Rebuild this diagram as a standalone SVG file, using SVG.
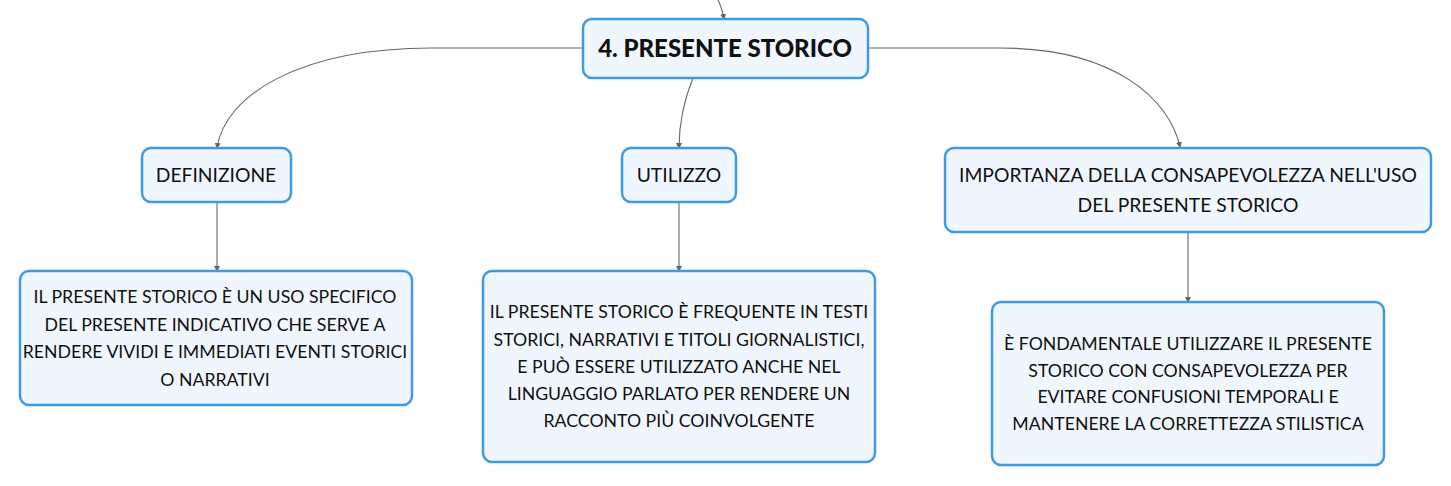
<svg xmlns="http://www.w3.org/2000/svg" width="1451" height="486" viewBox="0 0 1451 486">
<defs>
<marker id="arr" viewBox="0 0 6 6" refX="5" refY="3" markerWidth="6" markerHeight="6" orient="auto" markerUnits="userSpaceOnUse">
<path d="M0,0 L6,3 L0,6 z" fill="#666"/>
</marker>
<style>
.box{fill:#eff6fd;stroke:#3c9be2;stroke-width:2.5}
.t{font-family:Lato,"Noto Sans",sans-serif;font-size:17.7px;fill:#111;text-anchor:middle}
.m{font-family:Lato,"Noto Sans",sans-serif;font-size:19.3px;fill:#111;text-anchor:middle}
.root{font-family:Lato,"Noto Sans",sans-serif;font-size:24px;font-weight:900;fill:#111;text-anchor:middle}
.c{fill:none;stroke:#666;stroke-width:1.1}
</style>
</defs>
<rect width="1451" height="486" fill="#fff"/>
<g id="connectors">
<path class="c" d="M718,0 Q722,8 724,19" marker-end="url(#arr)"/>
<path class="c" d="M582,48 L432,48 C300,48 225,95 217,148" marker-end="url(#arr)"/>
<path class="c" d="M868,48 L1000,48 C1115,48 1170,100 1180,147" marker-end="url(#arr)"/>
<path class="c" d="M693,78 C684,100 679,125 679,148" marker-end="url(#arr)"/>
<path class="c" d="M217,202 L217,271" marker-end="url(#arr)"/>
<path class="c" d="M679,202 L679,271" marker-end="url(#arr)"/>
<path class="c" d="M1188,232 L1188,302" marker-end="url(#arr)"/>
</g>
<g id="root">
<rect class="box" x="583" y="19" width="285" height="59" rx="9"/>
<text class="root" x="725" y="57">4. PRESENTE STORICO</text>
</g>
<g id="definizione">
<rect class="box" x="142" y="148" width="149" height="54" rx="9"/>
<text class="m" x="216" y="182">DEFINIZIONE</text>
</g>
<g id="utilizzo">
<rect class="box" x="622" y="148" width="114" height="54" rx="9"/>
<text class="m" x="679" y="182">UTILIZZO</text>
</g>
<g id="importanza">
<rect class="box" x="945" y="148" width="486" height="84" rx="9"/>
<text class="m" x="1188" y="182">IMPORTANZA DELLA CONSAPEVOLEZZA NELL'USO</text>
<text class="m" x="1188" y="212">DEL PRESENTE STORICO</text>
</g>
<g id="leaf-definizione">
<rect class="box" x="20" y="271" width="392" height="134" rx="9"/>
<text class="t" x="215" y="303">IL PRESENTE STORICO È UN USO SPECIFICO</text>
<text class="t" x="215" y="331">DEL PRESENTE INDICATIVO CHE SERVE A</text>
<text class="t" x="215" y="358">RENDERE VIVIDI E IMMEDIATI EVENTI STORICI</text>
<text class="t" x="215" y="386">O NARRATIVI</text>
</g>
<g id="leaf-utilizzo">
<rect class="box" x="483" y="271" width="392" height="191" rx="9"/>
<text class="t" x="679" y="318">IL PRESENTE STORICO È FREQUENTE IN TESTI</text>
<text class="t" x="679" y="346">STORICI, NARRATIVI E TITOLI GIORNALISTICI,</text>
<text class="t" x="679" y="373">E PUÒ ESSERE UTILIZZATO ANCHE NEL</text>
<text class="t" x="679" y="400">LINGUAGGIO PARLATO PER RENDERE UN</text>
<text class="t" x="679" y="427">RACCONTO PIÙ COINVOLGENTE</text>
</g>
<g id="leaf-importanza">
<rect class="box" x="992" y="302" width="392" height="163" rx="9"/>
<text class="t" x="1188" y="350">È FONDAMENTALE UTILIZZARE IL PRESENTE</text>
<text class="t" x="1188" y="377">STORICO CON CONSAPEVOLEZZA PER</text>
<text class="t" x="1188" y="403">EVITARE CONFUSIONI TEMPORALI E</text>
<text class="t" x="1188" y="430">MANTENERE LA CORRETTEZZA STILISTICA</text>
</g>
</svg>
